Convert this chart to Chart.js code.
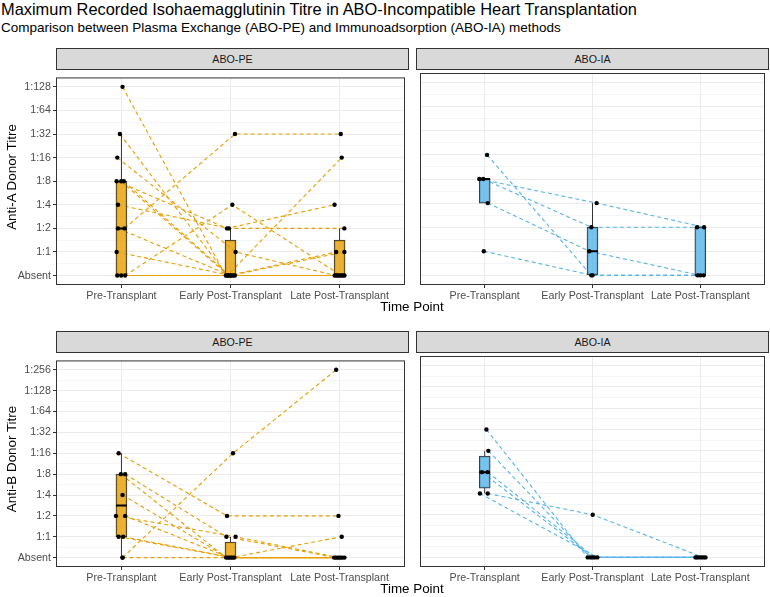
<!DOCTYPE html>
<html><head><meta charset="utf-8">
<script src="https://cdn.jsdelivr.net/npm/chart.js@4"></script>
<style>
html,body{margin:0;padding:0;background:#fff;}
body{width:770px;height:597px;position:relative;overflow:hidden;font-family:"Liberation Sans",Arial,sans-serif;}
canvas{position:absolute;}
.txt{position:absolute;white-space:nowrap;color:#000;}
.strip{position:absolute;background:#D9D9D9;border:1px solid #333;box-sizing:border-box;font-size:10.7px;color:#1A1A1A;text-align:center;line-height:20px;height:22px;}
.ytitle{position:absolute;width:200px;height:16px;line-height:16px;text-align:center;font-size:13.4px;transform:rotate(-90deg);transform-origin:center;white-space:nowrap;}
.xtitle{position:absolute;width:200px;height:16px;line-height:16px;text-align:center;font-size:13.4px;white-space:nowrap;}
</style></head><body>
<div class="txt" style="left:1px;top:1px;font-size:16.4px;line-height:17px;">Maximum Recorded Isohaemagglutinin Titre in ABO-Incompatible Heart Transplantation</div>
<div class="txt" style="left:1px;top:21px;font-size:13.5px;line-height:14px;">Comparison between Plasma Exchange (ABO-PE) and Immunoadsorption (ABO-IA) methods</div>

<div class="strip" style="left:56px;top:48px;width:353px;">ABO-PE</div>
<div class="strip" style="left:416px;top:48px;width:353px;">ABO-IA</div>
<div class="strip" style="left:56px;top:331px;width:353px;">ABO-PE</div>
<div class="strip" style="left:416px;top:331px;width:353px;">ABO-IA</div>

<canvas id="cA_PE" width="409" height="238" style="left:0;top:69px;"></canvas>
<canvas id="cA_IA" width="353" height="238" style="left:416px;top:69px;"></canvas>
<canvas id="cB_PE" width="409" height="237" style="left:0;top:352px;"></canvas>
<canvas id="cB_IA" width="353" height="237" style="left:416px;top:352px;"></canvas>

<div class="ytitle" style="left:-88px;top:169px;">Anti-A Donor Titre</div>
<div class="ytitle" style="left:-88px;top:451px;">Anti-B Donor Titre</div>
<div class="xtitle" style="left:312px;top:299px;">Time Point</div>
<div class="xtitle" style="left:312px;top:581px;">Time Point</div>

<script>
const FONT = '"Liberation Sans", Arial, sans-serif';
const timePoints = ['Pre-Transplant', 'Early Post-Transplant', 'Late Post-Transplant'];
const titreLabelsA = ['Absent', '1:1', '1:2', '1:4', '1:8', '1:16', '1:32', '1:64', '1:128'];
const titreLabelsB = ['Absent', '1:1', '1:2', '1:4', '1:8', '1:16', '1:32', '1:64', '1:128', '1:256'];

// Values are indices into the titre labels (0 = Absent), one entry per patient.
// Anti-A, ABO-PE
const antiA_PE_pre   = [8, 6, 5, 4, 4, 4, 3, 2, 2, 1, 0, 0, 0];
const antiA_PE_early = [0, 0, 1, 2, 0, 0, 2, 6, 0, 0, 3, 0, 0];
const antiA_PE_late  = [0, 5, 0, 3, 1, 0, 2, 6, 1, 0, 0, 0, 0];
const antiA_PE_preJit   = [0.01, -0.014, -0.038, -0.044, -0.002, 0.022, -0.032, 0.028, -0.032, -0.044, 0.034, -0.038, -0.002];
const antiA_PE_earlyJit = [-0.043, -0.03, 0.047, -0.032, -0.02, -0.01, -0.014, 0.041, 0, 0.01, 0.017, 0.025, 0.04];
const antiA_PE_lateJit  = [-0.045, 0.02, -0.03, -0.046, -0.031, -0.015, 0.044, 0.011, 0.044, 0, 0.015, 0.03, 0.045];
// box stats per time point: [lower whisker, Q1, median, Q3, upper whisker]
const antiA_PE_box = [[0, 0, 2, 4, 6], [0, 0, 0, 1.5, 2], [0, 0, 0, 1.5, 2]];

// Anti-A, ABO-IA
const antiA_IA_pre   = [5, 4, 4, 3, 1];
const antiA_IA_early = [0, 3, 2, 1, 0];
const antiA_IA_late  = [0, 2, 2, 0, 0];
const antiA_IA_preJit   = [0.022, -0.05, -0.014, 0.028, -0.008];
const antiA_IA_earlyJit = [-0.011, 0.038, -0.011, -0.029, 0.0];
const antiA_IA_lateJit  = [-0.025, 0.035, -0.03, 0.0, 0.03];
const antiA_IA_box = [[3, 3, 4, 4, 4], [0, 0, 1, 2, 3], [0, 0, 0, 2, 2]];

// Anti-B, ABO-PE
const antiB_PE_pre   = [5, 4, 4, 3, 2, 2, 1, 1, 0, 0];
const antiB_PE_early = [2, 0, 1, 0, 1, 0, 0, 0, 5, 0];
const antiB_PE_late  = [2, 0, 0, 0, 0, 0, 1, 0, 9, 0];
const antiB_PE_preJit   = [-0.026, -0.005, 0.034, 0.01, -0.05, 0.034, -0.026, 0.016, 0.01, 0.01];
const antiB_PE_earlyJit = [-0.032, -0.04, -0.038, -0.025, 0.047, -0.01, 0.005, 0.02, 0.023, 0.035];
const antiB_PE_lateJit  = [-0.01, -0.05, -0.035, -0.02, -0.005, 0.01, 0.02, 0.025, -0.031, 0.045];
const antiB_PE_box = [[0, 1, 2.5, 4, 5], [0, 0, 0, 0.75, 1], [0, 0, 0, 0, 0]];

// Anti-B, ABO-IA
const antiB_IA_pre   = [6, 5, 4, 4, 3, 3];
const antiB_IA_early = [0, 0, 0, 0, 2, 0];
const antiB_IA_late  = [0, 0, 0, 0, 0, 0];
const antiB_IA_preJit   = [0.016, 0.034, -0.026, 0.028, 0.028, -0.044];
const antiB_IA_earlyJit = [-0.045, -0.02, 0, 0.02, 0.002, 0.045];
const antiB_IA_lateJit  = [-0.045, -0.03, -0.01, 0.01, 0.03, 0.048];
const antiB_IA_box = [[3, 3.25, 4, 4.75, 5], [0, 0, 0, 0, 0], [0, 0, 0, 0, 0]];

const PE_FILL = 'rgba(230,159,0,0.8)', PE_LINE = '#E69F00';
const IA_FILL = 'rgba(86,180,233,0.8)', IA_LINE = '#56B4E9';

const borderPlugin = {
  id: 'panelBorder',
  afterDraw(chart) {
    const {ctx, chartArea: a} = chart;
    ctx.save();
    ctx.strokeStyle = '#333';
    ctx.lineWidth = 1;
    ctx.strokeRect(a.left + 0.5, a.top + 0.5, a.right - a.left - 1, a.bottom - a.top - 1);
    ctx.restore();
  }
};

function isMinor(ctx) { return ctx && ctx.tick && !Number.isInteger(ctx.tick.value); }

function buildPanel(id, pre, early, late, jPre, jEarly, jLate, box, labels, fill, line, showY) {
  const vals = [pre, early, late], jits = [jPre, jEarly, jLate];
  const datasets = [];
  const pts = [];
  for (let i = 0; i < pre.length; i++) {
    const path = [0, 1, 2].map(t => ({x: t + 1 + jits[t][i], y: vals[t][i]}));
    datasets.push({type: 'line', data: path, borderColor: line, borderWidth: 1.1, borderDash: [4, 3],
      pointRadius: 0, fill: false, tension: 0, order: 10});
    pts.push(...path);
  }
  const whisk = [], med = [], bars = [];
  box.forEach((b, t) => {
    const c = t + 1;
    whisk.push({x: c, y: b[0]}, {x: c, y: b[1]}, {x: c, y: null}, {x: c, y: b[3]}, {x: c, y: b[4]}, {x: c, y: null});
    med.push({x: c - 0.05, y: b[2]}, {x: c + 0.05, y: b[2]}, {x: c, y: null});
    bars.push({x: c, y: [b[1], b[3]]});
  });
  datasets.push({type: 'line', data: whisk, borderColor: '#333', borderWidth: 1, pointRadius: 0, spanGaps: false, order: 5});
  datasets.push({type: 'bar', data: bars, backgroundColor: fill, borderColor: '#333', borderWidth: 1,
    borderSkipped: false, barThickness: 11, order: 3});
  datasets.push({type: 'line', data: med, borderColor: '#000', borderWidth: 2, pointRadius: 0, spanGaps: false, order: 2});
  datasets.push({type: 'scatter', data: pts, pointRadius: 2.2, pointBackgroundColor: '#000', pointBorderWidth: 0,
    showLine: false, order: 0});

  const top = labels.length - 1;
  const pad = (top) * 0.05;
  const halfSteps = [];
  for (let v = 0; v <= top; v += 0.5) halfSteps.push(v);

  new Chart(document.getElementById(id), {
    type: 'line',
    data: {datasets},
    options: {
      responsive: false, animation: false, devicePixelRatio: 1, events: [],
      layout: {padding: 0},
      plugins: {legend: {display: false}, tooltip: {enabled: false}, title: {display: false}},
      scales: {
        x: {
          type: 'linear', min: 0.4, max: 3.6, offset: false,
          afterBuildTicks(s) { s.ticks = [1, 2, 3].map(v => ({value: v})); },
          afterFit(s) { s.height = 22; },
          grid: {color: '#EBEBEB', lineWidth: 1, tickLength: 3, tickColor: '#333', tickWidth: 1, offset: false},
          border: {display: false},
          ticks: {autoSkip: false, maxRotation: 0, minRotation: 0, padding: 2, color: '#4D4D4D',
            font: {family: FONT, size: 10.7}, callback: v => timePoints[Math.round(v) - 1]}
        },
        y: {
          type: 'linear', min: -pad, max: top + pad,
          afterBuildTicks(s) { s.ticks = halfSteps.map(v => ({value: v})); },
          afterFit(s) { s.width = showY ? 56 : 0; },
          grid: {color: '#EBEBEB', lineWidth: ctx => isMinor(ctx) ? 0.5 : 1, drawTicks: showY, tickLength: 3,
            tickColor: ctx => isMinor(ctx) ? 'rgba(0,0,0,0)' : '#333', tickWidth: 1},
          border: {display: false},
          ticks: {display: showY, autoSkip: false, padding: 2, color: '#4D4D4D',
            font: {family: FONT, size: 10.7}, callback: v => Number.isInteger(v) ? labels[v] : ''}
        }
      }
    },
    plugins: [borderPlugin]
  });
}

buildPanel('cA_PE', antiA_PE_pre, antiA_PE_early, antiA_PE_late, antiA_PE_preJit, antiA_PE_earlyJit, antiA_PE_lateJit, antiA_PE_box, titreLabelsA, PE_FILL, PE_LINE, true);
buildPanel('cA_IA', antiA_IA_pre, antiA_IA_early, antiA_IA_late, antiA_IA_preJit, antiA_IA_earlyJit, antiA_IA_lateJit, antiA_IA_box, titreLabelsA, IA_FILL, IA_LINE, false);
buildPanel('cB_PE', antiB_PE_pre, antiB_PE_early, antiB_PE_late, antiB_PE_preJit, antiB_PE_earlyJit, antiB_PE_lateJit, antiB_PE_box, titreLabelsB, PE_FILL, PE_LINE, true);
buildPanel('cB_IA', antiB_IA_pre, antiB_IA_early, antiB_IA_late, antiB_IA_preJit, antiB_IA_earlyJit, antiB_IA_lateJit, antiB_IA_box, titreLabelsB, IA_FILL, IA_LINE, false);
</script>
</body></html>
